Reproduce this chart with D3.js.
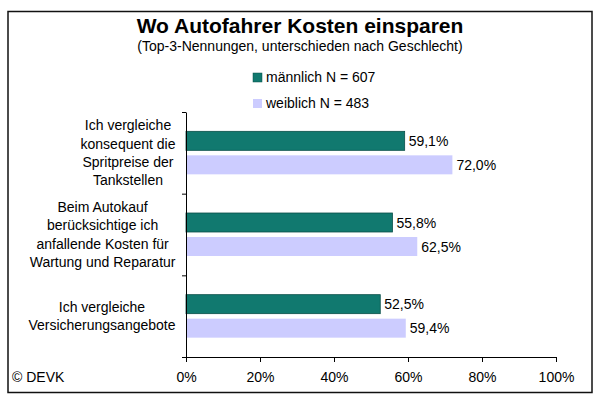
<!DOCTYPE html>
<html><head><meta charset="utf-8">
<script src="https://cdn.jsdelivr.net/npm/d3@7"></script>
<style>
html,body{margin:0;padding:0;background:#fff;}
text{font-family:"Liberation Sans",Arial,sans-serif;fill:#000;}
</style></head>
<body><svg id="c" width="604" height="402"></svg>
<script>
const title = "Wo Autofahrer Kosten einsparen";
const subtitle = "(Top-3-Nennungen, unterschieden nach Geschlecht)";
const categories = [
  ["Ich vergleiche", "konsequent die", "Spritpreise der", "Tankstellen"],
  ["Beim Autokauf", "berücksichtige ich", "anfallende Kosten für", "Wartung und Reparatur"],
  ["Ich vergleiche", "Versicherungsangebote"]
];
const seriesNames = ["männlich N = 607", "weiblich N = 483"];
const maleValues = [59.1, 55.8, 52.5];
const femaleValues = [72.0, 62.5, 59.4];
const xTicks = [0, 20, 40, 60, 80, 100];
const source = "© DEVK";
const colors = ["#11796F", "#CCCCFF"];
const strokes = ["#0A4F49", "none"];

const svg = d3.select("#c");
svg.append("rect").attr("x",0).attr("y",0).attr("width",604).attr("height",402).attr("fill","#fff");
svg.append("rect").attr("x",8).attr("y",11.5).attr("width",584).attr("height",381)
  .attr("fill","#fff").attr("stroke","#111").attr("stroke-width",1.5);

svg.append("text").attr("x",300).attr("y",33).attr("text-anchor","middle")
  .style("font-size","21px").style("font-weight","bold").text(title);
svg.append("text").attr("x",300).attr("y",51).attr("text-anchor","middle")
  .style("font-size","14px").text(subtitle);

// legend
const legY = [73, 99];
seriesNames.forEach((s,i)=>{
  svg.append("rect").attr("x",253).attr("y",legY[i]).attr("width",9).attr("height",9)
    .attr("fill",colors[i]).attr("stroke",strokes[i]).attr("stroke-width",0.5);
  svg.append("text").attr("x",266).attr("y",legY[i]+8.5).style("font-size","14px").text(s);
});

const x = d3.scaleLinear().domain([0,100]).range([186,556]);
const plotTop = 112, plotBottom = 357;
const y0 = d3.scaleBand().domain(d3.range(categories.length)).range([plotTop,plotBottom]).padding(0);
const bw = y0.bandwidth();
const step = 24, pi = 5/24;
const po = (bw/step - 2 + pi)/2;
const y1 = d3.scaleBand().domain([0,1]).range([0,bw]).paddingInner(pi).paddingOuter(po);

const data = [];
categories.forEach((c,i)=>{
  data.push({cat:i, s:0, v:maleValues[i]});
  data.push({cat:i, s:1, v:femaleValues[i]});
});

svg.selectAll("rect.bar").data(data).enter().append("rect").attr("class","bar")
  .attr("x",x(0)).attr("y",d=>y0(d.cat)+y1(d.s)).attr("width",d=>x(d.v)-x(0))
  .attr("height",y1.bandwidth()).attr("fill",d=>colors[d.s])
  .attr("stroke",d=>strokes[d.s]).attr("stroke-width",0.8);

const fmt = v => v.toFixed(1).replace(".",",") + "%";
svg.selectAll("text.val").data(data).enter().append("text").attr("class","val")
  .attr("x",d=>x(d.v)+4).attr("y",d=>y0(d.cat)+y1(d.s)+y1.bandwidth()/2+5)
  .style("font-size","14px").text(d=>fmt(d.v));

// x axis
const xAxis = d3.axisBottom(x).tickValues(xTicks).tickFormat(d=>d+"%").tickSizeInner(5).tickSizeOuter(0);
const gx = svg.append("g").attr("transform",`translate(0,${plotBottom})`).call(xAxis);
gx.select(".domain").attr("stroke","#000");
gx.selectAll("line").attr("stroke","#000");
gx.selectAll("text").style("font-size","14px").attr("dy",null).attr("y",25)
  .style("font-family","'Liberation Sans',Arial,sans-serif");

// y axis with ticks at band boundaries
const yLin = d3.scaleLinear().domain([0,categories.length]).range([plotTop,plotBottom]);
const yAxis = d3.axisLeft(yLin).tickValues(d3.range(categories.length+1)).tickFormat("").tickSizeInner(4).tickSizeOuter(0);
const gy = svg.append("g").attr("transform",`translate(${x(0)},0)`).call(yAxis);
gy.select(".domain").attr("stroke","#000");
gy.selectAll("line").attr("stroke","#000");

// category labels
const lh = 18.3, rightEdge = 175.5;
categories.forEach((lines,i)=>{
  const cy = y0(i) + bw/2;
  const g = svg.append("g");
  const ts = lines.map((l,j)=> g.append("text").style("font-size","14px")
     .attr("text-anchor","middle")
     .attr("y", cy + (j-(lines.length-1)/2)*lh + 5).text(l));
  const maxW = d3.max(ts, t=>t.node().getComputedTextLength());
  ts.forEach(t=>t.attr("x", rightEdge - maxW/2));
});

svg.append("text").attr("x",12).attr("y",382).style("font-size","14px").text(source);
</script></body></html>
